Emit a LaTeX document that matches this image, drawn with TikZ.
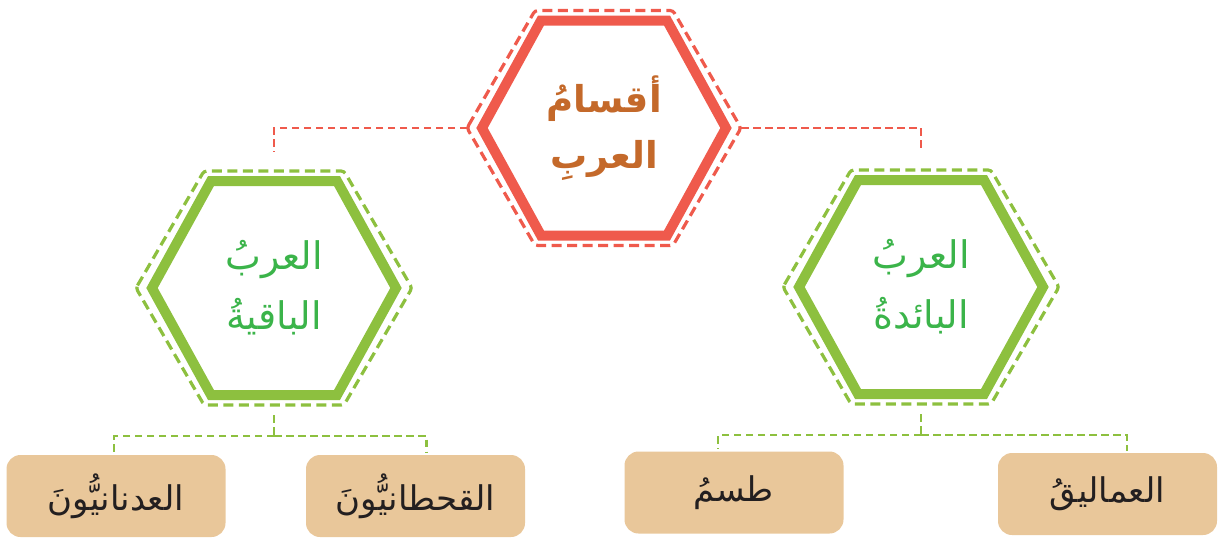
\documentclass[tikz,border=0pt]{standalone}
\usepackage{fontspec}
\newfontfamily\arabicfont[Script=Arabic]{DejaVu Sans}
\TeXXeTstate=1
\definecolor{hred}{HTML}{EF5A4C}
\definecolor{hbrown}{HTML}{C4692A}
\definecolor{hgreen}{HTML}{8DC03F}
\definecolor{tgreen}{HTML}{3BB44A}
\definecolor{tan}{HTML}{E9C79A}
\definecolor{tblack}{HTML}{231F20}
\newcommand\hexa[5]{\draw[#1] (#2.center) ++(-#3,0) -- ++({#3-#4},-#5) -- ++({2*#4},0) -- ++({#3-#4},#5) -- ++({#4-#3},#5) -- ++({-2*#4},0) -- cycle;}
\begin{document}
\begin{tikzpicture}[x=1pt,y=-1pt,
  redsolid/.style={draw=hred, line width=10pt},
  reddash/.style={draw=hred, line width=3.2pt, dash pattern=on 10pt off 5.5pt, rounded corners=3pt},
  greensolid/.style={draw=hgreen, line width=10pt},
  greendash/.style={draw=hgreen, line width=3.2pt, dash pattern=on 10pt off 5.5pt, rounded corners=3pt},
  redconn/.style={draw=hred, line width=2.6pt, dash pattern=on 7.5pt off 4.5pt},
  greenconn/.style={draw=hgreen, line width=2.6pt, dash pattern=on 7.5pt off 4.5pt},
  titletext/.style={align=center, inner sep=0pt, text=hbrown, font=\arabicfont\bfseries\fontsize{37}{56}\selectfont},
  greentext/.style={align=center, inner sep=0pt, text=tgreen, font=\arabicfont\fontsize{38}{60}\selectfont},
  leafbox/.style={rectangle, rounded corners=14pt, fill=tan, minimum width=219pt, minimum height=82pt, inner sep=0pt, text=tblack, font=\arabicfont\fontsize{34}{40}\selectfont}
]
\useasboundingbox (0,0) rectangle (1223,539);

% top hexagon
\node[titletext] (top) at (604,128) {\beginR أقسامُ\endR\\\beginR العربِ\endR};
\hexa{redsolid}{top}{122}{63}{107.5}
\hexa{reddash}{top}{137}{69}{117.5}

% left hexagon
\node[greentext] (left) at (274,288) {\beginR العربُ\endR\\\beginR الباقيةُ\endR};
\hexa{greensolid}{left}{122}{63}{107}
\hexa{greendash}{left}{138}{70}{117}

% right hexagon
\node[greentext] (right) at (921,287) {\beginR العربُ\endR\\\beginR البائدةُ\endR};
\hexa{greensolid}{right}{122}{63}{107}
\hexa{greendash}{right}{138}{70}{117}

% leaf boxes
\node[leafbox] (b1) at (116,496) {\beginR العدنانيُّونَ\endR};
\node[leafbox] (b2) at (415.5,496) {\beginR القحطانيُّونَ\endR};
\node[leafbox] (b3) at (734,492.5) {\beginR طسمُ\endR};
\node[leafbox] (b4) at (1107.5,494) {\beginR العماليقُ\endR};

% connection points
\path (top.center) ++(-137,0) coordinate (topW) ++(274,0) coordinate (topE);
\path (left.center) ++(0,-120) coordinate (leftN) ++(0,237) coordinate (leftS);
\path (right.center) ++(0,-120) coordinate (rightN) ++(0,237) coordinate (rightS);
\path (leftS) ++(0,31) coordinate (jl);
\path (rightS) ++(0,31) coordinate (jr);

% connectors
\draw[redconn, shorten >=16pt] (topW) -| (leftN);
\draw[redconn, shorten >=17pt] (topE) -| (rightN);
\draw[greenconn, shorten <=10pt] (leftS) -- (jl);
\draw[greenconn, shorten >=2pt] (jl) -| ([xshift=-2pt]b1.north);
\draw[greenconn, shorten >=2pt] (jl) -| ([xshift=11pt]b2.north);
\draw[greenconn, shorten <=10pt] (rightS) -- (jr);
\draw[greenconn, shorten >=2pt] (jr) -| ([xshift=-16pt]b3.north);
\draw[greenconn, shorten >=2pt] (jr) -| ([xshift=19.5pt]b4.north);
\end{tikzpicture}
\end{document}
